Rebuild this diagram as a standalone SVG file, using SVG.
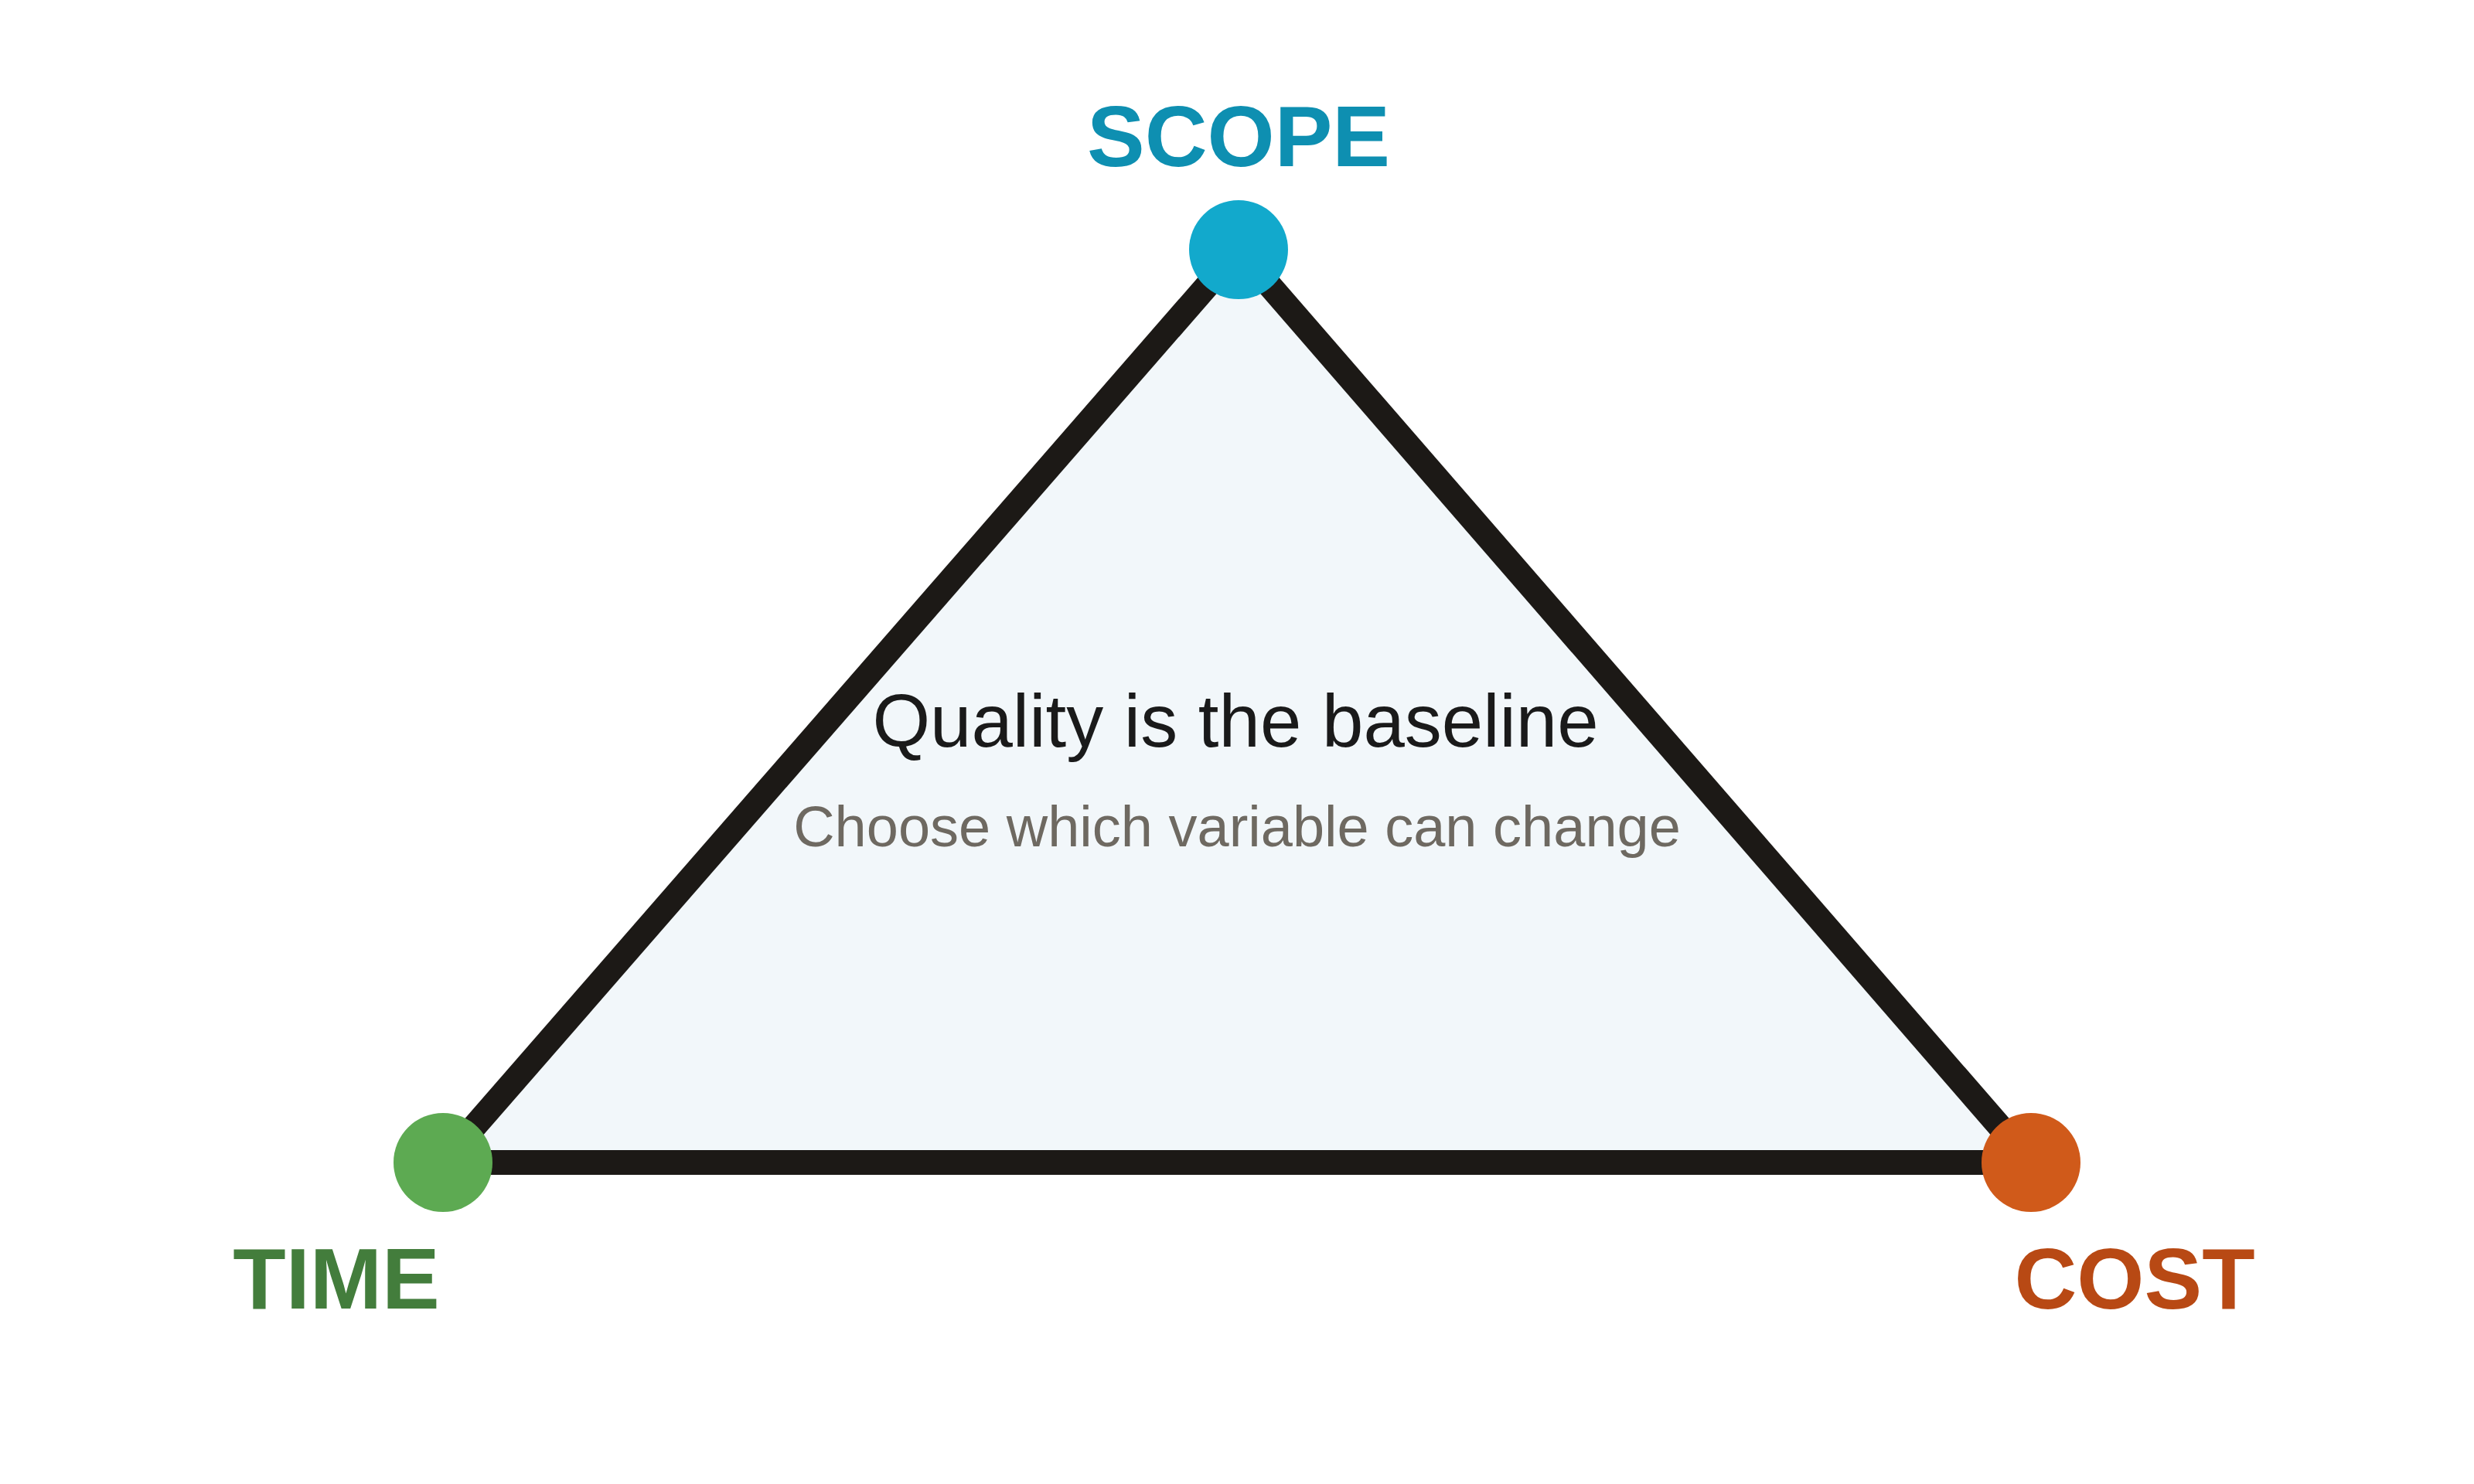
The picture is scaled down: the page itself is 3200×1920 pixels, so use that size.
<svg xmlns="http://www.w3.org/2000/svg" width="3200" height="1920" viewBox="0 0 3200 1920">
<style>
.lbl{font-family:"Liberation Sans",Arial,sans-serif;font-weight:bold;font-size:112px;text-anchor:middle}
.t1{font-family:"Liberation Sans",Arial,sans-serif;font-size:96px;fill:#1a1a1a;text-anchor:middle}
.t2{font-family:"Liberation Sans",Arial,sans-serif;font-size:74px;fill:#6e6961;text-anchor:middle}
.edge{fill:none;stroke:#1c1916;stroke-width:32}
</style>
<rect width="3200" height="1920" fill="#ffffff"/>
<g id="area">
<polygon points="1602,323 2627,1504 573,1504" fill="#f2f7fa"/>
</g>
<g id="connectors">
<line class="edge" x1="573" y1="1504" x2="1602" y2="323"/>
<line class="edge" x1="1602" y1="323" x2="2627" y2="1504"/>
<line class="edge" x1="573" y1="1504" x2="2627" y2="1504"/>
</g>
<g id="center-text">
<text class="t1" x="1598" y="966">Quality is the baseline</text>
<text class="t2" x="1600" y="1095">Choose which variable can change</text>
</g>
<g id="scope">
<circle cx="1602" cy="323" r="64" fill="#12a9cc"/>
<text class="lbl" x="1602" y="215" fill="#0e8fb1">SCOPE</text>
</g>
<g id="time">
<circle cx="573" cy="1504" r="64" fill="#5daa52"/>
<text class="lbl" x="435" y="1693" fill="#437d3c">TIME</text>
</g>
<g id="cost">
<circle cx="2627" cy="1504" r="64" fill="#d05a1a"/>
<text class="lbl" x="2761" y="1693" fill="#b84914">COST</text>
</g>
</svg>
